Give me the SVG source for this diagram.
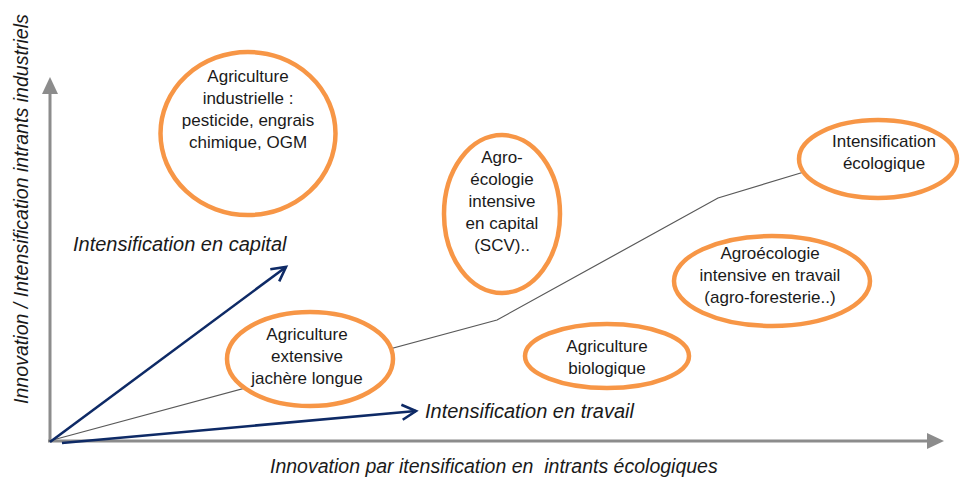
<svg xmlns="http://www.w3.org/2000/svg" width="962" height="479" viewBox="0 0 962 479">
<style>
.node ellipse{fill:#fff;stroke:#f79646;stroke-width:4.5}
.node text{font-family:"Liberation Sans",Arial,sans-serif;font-size:17px;fill:#1a1a1a;text-anchor:middle}
.lbl{font-family:"Liberation Sans",Arial,sans-serif;font-style:italic;fill:#1a1a1a;white-space:pre}
.axis{stroke:#8c8c8c;stroke-width:3;fill:none}
.path{stroke:#595959;stroke-width:1.2;fill:none}
.blue{stroke:#0e2a66;stroke-width:2.6;fill:none;marker-end:url(#chev)}
</style>
<defs>
<marker id="chev" markerUnits="userSpaceOnUse" markerWidth="20" markerHeight="20" viewBox="-16 -10 20 20" refX="0" refY="0" orient="auto">
<path d="M-14,-7.5 L0,0 L-14,7.5" fill="none" stroke="#0e2a66" stroke-width="2.6"/>
</marker>
</defs>
<g id="connectors">
<line class="axis" x1="50" y1="441" x2="50" y2="92"/>
<polygon points="50,77 42,94 58,94" fill="#8c8c8c"/>
<line class="axis" x1="48" y1="441" x2="928" y2="441"/>
<polygon points="944,441 927,433 927,449" fill="#8c8c8c"/>
<polyline class="path" points="49,441 497,320 718,198 804,172"/>
<line class="blue" x1="50" y1="442" x2="286" y2="267"/>
<line class="blue" x1="62" y1="443" x2="416" y2="411"/>
</g>
<g id="node-industrielle" class="node">
<ellipse cx="248" cy="133.5" rx="87.5" ry="81.5"/>
<text x="248" y="82">Agriculture</text>
<text x="248" y="104">industrielle :</text>
<text x="248" y="126">pesticide, engrais</text>
<text x="248" y="148">chimique, OGM</text>
</g>
<g id="node-agroeco-capital" class="node">
<ellipse cx="502" cy="214" rx="58" ry="79"/>
<text x="502" y="163">Agro-</text>
<text x="502" y="185">écologie</text>
<text x="502" y="207">intensive</text>
<text x="502" y="229">en capital</text>
<text x="502" y="251">(SCV)..</text>
</g>
<g id="node-intensif-eco" class="node">
<ellipse cx="878" cy="159" rx="79" ry="39"/>
<text x="884" y="147">Intensification</text>
<text x="884" y="169">écologique</text>
</g>
<g id="node-agroeco-travail" class="node">
<ellipse cx="772" cy="281" rx="98" ry="45"/>
<text x="770" y="259">Agroécologie</text>
<text x="770" y="281">intensive en travail</text>
<text x="770" y="303">(agro-foresterie..)</text>
</g>
<g id="node-extensive" class="node">
<ellipse cx="310" cy="359" rx="83" ry="47"/>
<text x="307" y="340">Agriculture</text>
<text x="307" y="362">extensive</text>
<text x="307" y="384">jachère longue</text>
</g>
<g id="node-bio" class="node">
<ellipse cx="607" cy="356" rx="82" ry="32"/>
<text x="607" y="352">Agriculture</text>
<text x="607" y="374">biologique</text>
</g>
<text class="lbl" x="73" y="251" font-size="20">Intensification en capital</text>
<text class="lbl" x="425" y="418" font-size="20">Intensification en travail</text>
<text class="lbl" x="270" y="473" font-size="19.5">Innovation par itensification en  intrants écologiques</text>
<text class="lbl" transform="translate(28,404) rotate(-90)" font-size="19.6">Innovation / Intensification intrants industriels</text>
</svg>
